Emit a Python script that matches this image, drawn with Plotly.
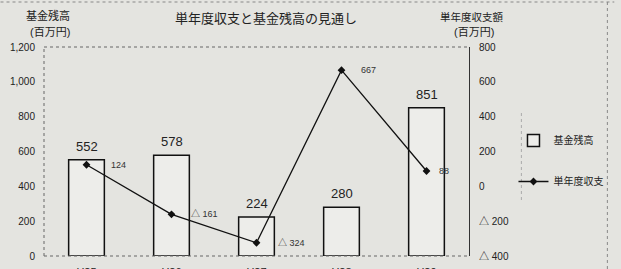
import plotly.graph_objects as go

categories = ["H25", "H26", "H27", "H28", "H29"]
fund_balance = [552, 578, 224, 280, 851]
annual_balance = [124, -161, -324, 667, 88]
annual_labels = ["124", "△ 161", "△ 324", "667", "88"]
left_ticks = [0, 200, 400, 600, 800, 1000, 1200]
left_ticktext = ["0", "200", "400", "600", "800", "1,000", "1,200"]
right_ticks = [-400, -200, 0, 200, 400, 600, 800]
right_ticktext = ["△ 400", "△ 200", "0", "200", "400", "600", "800"]

BG = "#e4e4e0"
FONT = "Liberation Sans, Arial, Noto Sans CJK JP, sans-serif"

fig = go.Figure()
fig.add_trace(go.Bar(
    x=categories, y=fund_balance, name="基金残高",
    marker=dict(color="#ededea", line=dict(color="#111111", width=1.5)),
    width=0.42, yaxis="y", legendgroup="a",
))
fig.add_trace(go.Scatter(
    x=categories, y=annual_balance, name="単年度収支", mode="lines+markers",
    line=dict(color="#111111", width=1.3),
    marker=dict(symbol="diamond", size=6, color="#111111"),
    yaxis="y2", legendgroup="b",
))

annotations = []
for c, v in zip(categories, fund_balance):
    annotations.append(dict(x=c, y=v, xref="x", yref="y", text=str(v), showarrow=False,
                            yanchor="bottom", yshift=4, font=dict(size=13, color="#222222")))
shifts = [22, 17, 19, 17, 10]
for c, v, t, s in zip(categories, annual_balance, annual_labels, shifts):
    annotations.append(dict(x=c, y=v, xref="x", yref="y2", text=t, showarrow=False,
                            xanchor="left", yanchor="middle", xshift=s,
                            font=dict(size=9, color="#333333")))

def px_x(p):
    return (p - 44) / 430.0

def px_y(p):
    return (256 - p) / 209.0

def label(xp, yp, text, size):
    return dict(x=px_x(xp), y=px_y(yp), xref="paper", yref="paper", text=text,
                showarrow=False, xanchor="center", yanchor="middle",
                font=dict(size=size, color="#222222"))

annotations += [
    label(269, 18, "単年度収支と基金残高の見通し", 13),
    label(48, 15, "基金残高", 11),
    label(50, 32, "(百万円)", 11),
    label(477, 17, "単年度収支額", 10.5),
    label(479, 32, "(百万円)", 11),
]

dash_line = dict(color="#666666", width=1, dash="dot")
shapes = [
    dict(type="line", xref="paper", yref="paper", x0=0, x1=0, y0=0, y1=1, line=dash_line),
    dict(type="line", xref="paper", yref="paper", x0=0, x1=1, y0=1, y1=1, line=dash_line),
    dict(type="line", xref="paper", yref="paper", x0=0, x1=1, y0=0, y1=0, line=dash_line),
    dict(type="line", xref="paper", yref="paper", x0=px_x(0), x1=px_x(621), y0=px_y(2), y1=px_y(2),
         line=dict(color="#888888", width=1, dash="dot")),
    dict(type="line", xref="paper", yref="paper", x0=px_x(614), x1=px_x(614), y0=px_y(269), y1=px_y(0),
         line=dict(color="#888888", width=1, dash="dot")),
    dict(type="line", xref="paper", yref="paper", x0=px_x(527), x1=px_x(527), y0=px_y(200), y1=px_y(110),
         line=dict(color="#aaaaaa", width=1, dash="dot")),
]

fig.update_layout(
    width=621, height=269,
    margin=dict(l=44, r=147, t=47, b=13),
    paper_bgcolor=BG, plot_bgcolor=BG,
    font=dict(family=FONT, size=10, color="#222222"),
    showlegend=True,
    legend=dict(x=px_x(519), y=px_y(126), xanchor="left", yanchor="top", bgcolor="rgba(0,0,0,0)",
                font=dict(size=10), tracegroupgap=22, itemwidth=30),
    bargap=0.58,
    xaxis=dict(showgrid=False, showline=False, zeroline=False, ticks="outside", ticklen=6,
               tickcolor=BG, tickfont=dict(size=11), automargin=False),
    yaxis=dict(range=[0, 1200], tickvals=left_ticks, ticktext=left_ticktext, showgrid=False,
               zeroline=False, showline=False, ticks="outside", ticklen=6, tickcolor=BG,
               tickfont=dict(size=10), automargin=False),
    yaxis2=dict(range=[-400, 800], tickvals=right_ticks, ticktext=right_ticktext, overlaying="y",
                side="right", showgrid=False, zeroline=False, showline=True, linecolor="#333333",
                linewidth=1, ticks="outside", ticklen=7, tickcolor=BG, tickfont=dict(size=10),
                automargin=False),
    annotations=annotations, shapes=shapes,
)

fig.write_html(
    "out.html",
    config={"displayModeBar": False},
    post_script="document.body.style.margin='0';document.body.style.background='" + BG + "';",
)
